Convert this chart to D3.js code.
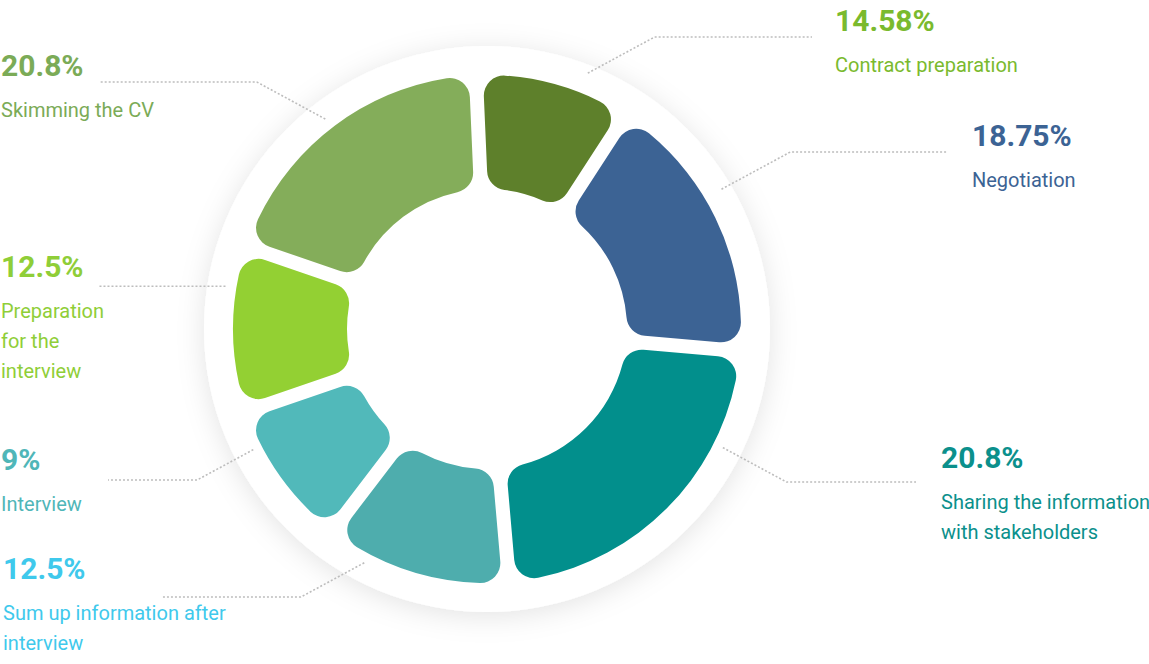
<!DOCTYPE html>
<html>
<head>
<meta charset="utf-8">
<script src="https://cdn.jsdelivr.net/npm/d3@7/dist/d3.min.js"></script>
<style>
  html, body { margin: 0; padding: 0; background: #fff; }
  svg { display: block; font-family: Roboto, "Noto Sans", sans-serif; }
</style>
</head>
<body>
<svg id="chart" width="1149" height="664"></svg>
<script>
// ---- data ----
const categories = [
  "Contract preparation",
  "Negotiation",
  "Sharing the information with stakeholders",
  "Sum up information after interview",
  "Interview",
  "Preparation for the interview",
  "Skimming the CV"
];
const percentLabels = ["14.58%", "18.75%", "20.8%", "12.5%", "9%", "12.5%", "20.8%"];
// arc size of each slice in degrees, as drawn in the picture
const sliceShares = [35.5, 62, 80, 42.4, 33.6, 38, 68.5];
const labelLines = [
  ["Contract preparation"],
  ["Negotiation"],
  ["Sharing the information", "with stakeholders"],
  ["Sum up information after", "interview"],
  ["Interview"],
  ["Preparation", "for the", "interview"],
  ["Skimming the CV"]
];
const sliceColors = ["#5e802b", "#3c6394", "#028f8c", "#4eadad", "#51b9ba", "#93d033", "url(#skimGrad)"];
const textColors  = ["#7aba2e", "#3c6394", "#0b908c", "#3fc9ec", "#4fb6b8", "#8fce38", "#7bab57"];

// ---- layout (positions/sizes) ----
const W = 1149, H = 664;
const cx = 487, cy = 329;
const rBg = 283, rOuter = 254, rInner = 140;
const startDeg = -2.5;
// label text anchor (x, baseline of percentage), leader angle (deg), leader radius, line y, line end x
const labelLayout = [
  { x: 835, y: 31,  ang: 21.5,  r: 275, lineY: 37,  endX: 812 },
  { x: 972, y: 146, ang: 59.2,  r: 273, lineY: 152, endX: 948 },
  { x: 941, y: 468, ang: 116.7, r: 264, lineY: 482, endX: 916 },
  { x: 3,   y: 579, ang: 207.7, r: 264, lineY: 597, endX: 162 },
  { x: 1,   y: 470, ang: 242.7, r: 263, lineY: 480, endX: 108 },
  { x: 1,   y: 277, ang: 279.3, r: 265, lineY: null, endX: 99 },
  { x: 1,   y: 76,  ang: 322.4, r: 265, lineY: 82,  endX: 100 }
];

const svg = d3.select("#chart");
const defs = svg.append("defs");
const f = defs.append("filter").attr("id", "shadow")
  .attr("x", "-30%").attr("y", "-30%").attr("width", "160%").attr("height", "160%");
f.append("feDropShadow").attr("dx", 0).attr("dy", 4).attr("stdDeviation", 14)
  .attr("flood-color", "#000").attr("flood-opacity", 0.11);
const g1 = defs.append("linearGradient").attr("id", "skimGrad")
  .attr("gradientUnits", "userSpaceOnUse")
  .attr("x1", 0).attr("y1", cy - rOuter).attr("x2", 0).attr("y2", cy - 40);
g1.append("stop").attr("offset", "0%").attr("stop-color", "#84ad5a");
g1.append("stop").attr("offset", "100%").attr("stop-color", "#79b64d");

// background circle
svg.append("circle").attr("cx", cx).attr("cy", cy).attr("r", rBg)
  .attr("fill", "#fff").attr("filter", "url(#shadow)");

const rad = d => d * Math.PI / 180;
const pie = d3.pie().sort(null).value(d => d)
  .startAngle(rad(startDeg)).endAngle(rad(startDeg + 360));
const arc = d3.arc().innerRadius(rInner).outerRadius(rOuter)
  .cornerRadius(20).padAngle(0.07).padRadius(200);

const gPie = svg.append("g").attr("transform", `translate(${cx},${cy})`);
gPie.selectAll("path").data(pie(sliceShares)).join("path")
  .attr("d", arc)
  .attr("fill", (d, i) => sliceColors[i]);

// leader lines
const lineG = svg.append("g");
labelLayout.forEach((L, i) => {
  const a = rad(L.ang);
  const sx = cx + L.r * Math.sin(a), sy = cy - L.r * Math.cos(a);
  let pts;
  if (L.lineY === null) {
    pts = [[sx, sy], [L.endX, sy]];
  } else {
    const dirX = Math.sin(a) >= 0 ? 1 : -1;
    const ex = sx + dirX * Math.abs(L.lineY - sy) * 1.85;
    pts = [[sx, sy], [ex, L.lineY], [L.endX, L.lineY]];
  }
  lineG.append("path")
    .attr("d", d3.line()(pts))
    .attr("fill", "none")
    .attr("stroke", "#bdbdbd")
    .attr("stroke-width", 1.6)
    .attr("stroke-dasharray", "2,2");
});

// labels
const labG = svg.append("g");
labelLayout.forEach((L, i) => {
  labG.append("text")
    .attr("x", L.x).attr("y", L.y)
    .attr("fill", textColors[i])
    .attr("font-size", 30).attr("font-weight", 700)
    .text(percentLabels[i]);
  const t = labG.append("text")
    .attr("x", L.x).attr("y", L.y + 41)
    .attr("fill", textColors[i])
    .attr("font-size", 20).attr("font-weight", 400);
  labelLines[i].forEach((ln, j) => {
    t.append("tspan").attr("x", L.x).attr("dy", j === 0 ? 0 : 30).text(ln);
  });
});
</script>
</body>
</html>
